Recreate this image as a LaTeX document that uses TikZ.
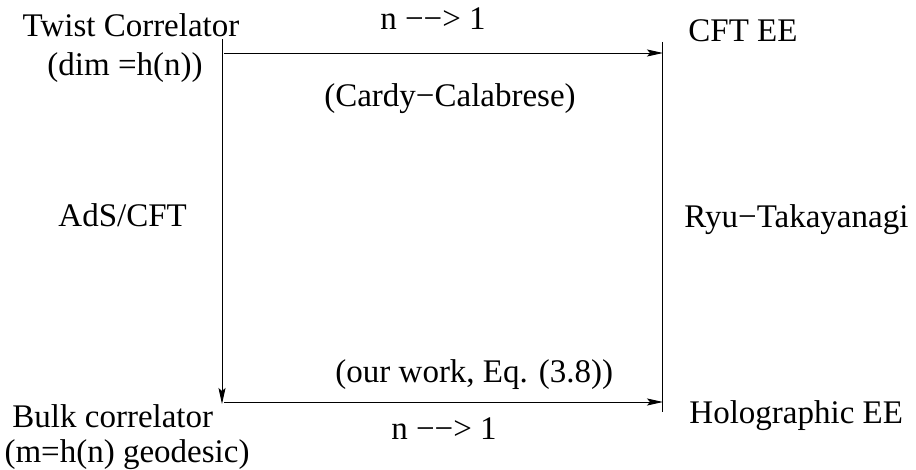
\documentclass[tikz,border=0pt]{standalone}
\usepackage{fontspec}
\setmainfont{Liberation Serif}
\usetikzlibrary{arrows.meta}

\begin{document}
\begin{tikzpicture}[x=1pt,y=-1pt,>={Stealth[length=16pt,width=7pt,inset=3pt]},
  line cap=butt,line width=0.9pt,
  lbl/.style={inner sep=0pt,anchor=base,font=\fontsize{33}{40}\selectfont},
  lblw/.style={lbl,anchor=base west}]

  \useasboundingbox (0,0) rectangle (916,470);

  % corners of the square
  \coordinate (twistc) at (222,39);
  \coordinate (bulkc) at (222,404);
  \coordinate (topstart) at (224,53);
  \coordinate (cftend) at (663,53);
  \coordinate (rtop) at (662,42);
  \coordinate (rbot) at (662,412);
  \coordinate (botstart) at (224,402);
  \coordinate (holoend) at (663,402);

  % arrows
  \draw[->] (twistc) -- (bulkc);
  \draw[->] (topstart) -- (cftend);
  \draw (rtop) -- (rbot);
  \draw[->] (botstart) -- (holoend);

  % corner labels
  \node[lbl] (twist) at (131,37) {Twist Correlator};
  \node[lbl] (dim) at (125,76) {(dim =h(n))};
  \node[lblw] (cftee) at (688,42) {CFT EE};
  \node[lblw] (bulk) at (12,428) {Bulk correlator};
  \node[lbl] (geod) at (127,462) {(m=h(n) geodesic)};
  \node[lblw] (holo) at (689,423) {Holographic EE};

  % edge labels
  \node[lbl] (ntop) at (433,30) {n −−> 1};
  \node[lbl] (cardy) at (450,107) {(Cardy−Calabrese)};
  \node[lblw] (ads) at (58,227) {AdS/CFT};
  \node[lblw] (ryu) at (684,228) {Ryu−Takayanagi};
  \node[lblw] (ourwork) at (335,382) {(our work, Eq. (3.8))};
  \node[lbl] (nbot) at (444,439) {n −−> 1};
\end{tikzpicture}
\end{document}
